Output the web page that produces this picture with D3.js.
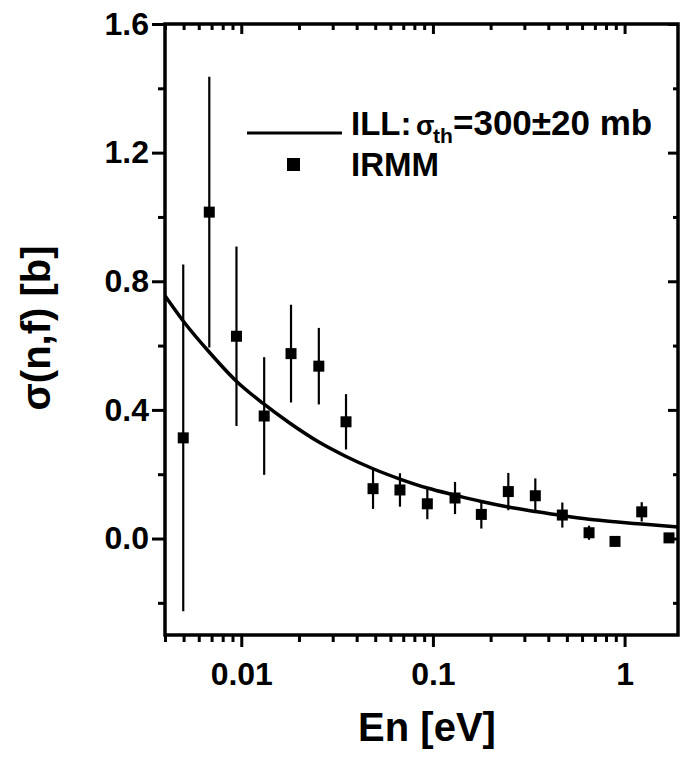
<!DOCTYPE html>
<html>
<head>
<meta charset="utf-8">
<script src="https://cdn.jsdelivr.net/npm/d3@7"></script>
<style>
  html, body { margin: 0; padding: 0; background: #fff; }
  svg { display: block; }
  text { font-family: "Liberation Sans", Arial, sans-serif; font-weight: bold; fill: #000; }
</style>
</head>
<body>
<svg id="chart" width="682" height="757"></svg>
<script>
// ---- Data ----
const energies = [0.00498, 0.00681, 0.00944, 0.01317, 0.01818, 0.02539, 0.0352, 0.0487, 0.0673, 0.0935,
                  0.1304, 0.1789, 0.2474, 0.3422, 0.4734, 0.6526, 0.8914, 1.2288, 1.705];
const sigmaIRMM = [0.313, 1.015, 0.629, 0.381, 0.575, 0.536, 0.363, 0.155, 0.151, 0.108,
                   0.126, 0.075, 0.146, 0.133, 0.073, 0.018, -0.009, 0.083, 0.002];
const errIRMM   = [0.539, 0.421, 0.279, 0.183, 0.152, 0.119, 0.086, 0.063, 0.052, 0.048,
                   0.050, 0.044, 0.058, 0.054, 0.039, 0.022, 0.006, 0.030, 0.006];

const curveE = [0.004, 0.005, 0.0068, 0.0094, 0.013, 0.0178, 0.0254, 0.035, 0.0487, 0.0673, 0.0935,
                0.13, 0.179, 0.247, 0.342, 0.473, 0.653, 0.891, 1.229, 1.705, 1.9];
const curveILL = [0.755, 0.675, 0.58, 0.49, 0.42, 0.36, 0.30, 0.256, 0.217, 0.185, 0.157,
                  0.135, 0.115, 0.098, 0.084, 0.071, 0.060, 0.052, 0.045, 0.038, 0.036];

const xMajorTicks = [0.01, 0.1, 1];
const xTickLabels = ["0.01", "0.1", "1"];
const yMajorTicks = [0.0, 0.4, 0.8, 1.2, 1.6];
const yTickLabels = ["0.0", "0.4", "0.8", "1.2", "1.6"];
const yMinorTicks = [-0.2, 0.2, 0.6, 1.0, 1.4];

const legendLabels = { ill: "ILL:", sigma: "σ", sub: "th", rest: "=300±20 mb", pts: "IRMM" };
const axisTitles = { x: "En [eV]", y: "σ(n,f) [b]" };

// ---- Layout ----
const L = 165, R = 678, T = 24, B = 635;
const svg = d3.select("#chart");

const x = d3.scaleLog().domain([0.004, 1.9]).range([L, R]);
const y = d3.scaleLinear().domain([-0.3, 1.6]).range([B, T]);

// minor log ticks
const xMinorTicks = [];
[0.001, 0.01, 0.1].forEach(d => { for (let k = 2; k <= 9; k++) { const v = +(d * k).toPrecision(3); if (v >= 0.004 && v <= 1.9 && xMajorTicks.indexOf(v) < 0) xMinorTicks.push(v); } });

const fmtX = d => xTickLabels[xMajorTicks.indexOf(d)];
const fmtY = d => yTickLabels[yMajorTicks.findIndex(v => Math.abs(v - d) < 1e-9)];

function styleAxis(g) {
  g.select(".domain").remove();
  g.selectAll(".tick line").attr("stroke", "#000").attr("stroke-width", 3);
}

// bottom axis (outward ticks)
svg.append("g").attr("transform", `translate(0,${B})`)
  .call(d3.axisBottom(x).tickValues(xMajorTicks).tickFormat(fmtX).tickSizeInner(12).tickPadding(8))
  .call(styleAxis)
  .call(g => g.selectAll("text").attr("font-size", 32).attr("font-family", "Liberation Sans, Arial, sans-serif").attr("font-weight", "bold").attr("dy", "0.95em"));
svg.append("g").attr("transform", `translate(0,${B})`)
  .call(d3.axisBottom(x).tickValues(xMinorTicks).tickFormat("").tickSizeInner(7))
  .call(styleAxis);

// top axis (inward ticks)
svg.append("g").attr("transform", `translate(0,${T})`)
  .call(d3.axisTop(x).tickValues(xMajorTicks).tickFormat("").tickSizeInner(-10))
  .call(styleAxis);
svg.append("g").attr("transform", `translate(0,${T})`)
  .call(d3.axisTop(x).tickValues(xMinorTicks).tickFormat("").tickSizeInner(-6))
  .call(styleAxis);

// left axis (outward ticks)
svg.append("g").attr("transform", `translate(${L},0)`)
  .call(d3.axisLeft(y).tickValues(yMajorTicks).tickFormat(fmtY).tickSizeInner(13).tickPadding(3))
  .call(styleAxis)
  .call(g => g.selectAll("text").attr("font-size", 32).attr("font-family", "Liberation Sans, Arial, sans-serif").attr("font-weight", "bold"));
svg.append("g").attr("transform", `translate(${L},0)`)
  .call(d3.axisLeft(y).tickValues(yMinorTicks).tickFormat("").tickSizeInner(7))
  .call(styleAxis);

// right axis (inward ticks)
svg.append("g").attr("transform", `translate(${R},0)`)
  .call(d3.axisRight(y).tickValues(yMajorTicks).tickFormat("").tickSizeInner(-10))
  .call(styleAxis);
svg.append("g").attr("transform", `translate(${R},0)`)
  .call(d3.axisRight(y).tickValues(yMinorTicks).tickFormat("").tickSizeInner(-5))
  .call(styleAxis);

// frame
svg.append("rect").attr("x", L).attr("y", T).attr("width", R - L).attr("height", B - T)
  .attr("fill", "none").attr("stroke", "#000").attr("stroke-width", 3.5);

// clip
svg.append("clipPath").attr("id", "plotclip").append("rect")
  .attr("x", L).attr("y", T).attr("width", R - L).attr("height", B - T);
const plot = svg.append("g").attr("clip-path", "url(#plotclip)");

// ILL curve
const curveData = curveE.map((e, i) => [e, curveILL[i]]);
plot.append("path").datum(curveData)
  .attr("d", d3.line().x(d => x(d[0])).y(d => y(d[1])).curve(d3.curveMonotoneX))
  .attr("fill", "none").attr("stroke", "#000").attr("stroke-width", 3.5);

// IRMM points with error bars
const pts = energies.map((e, i) => ({ e, s: sigmaIRMM[i], err: errIRMM[i] }));
plot.selectAll("line.err").data(pts).join("line").attr("class", "err")
  .attr("x1", d => x(d.e)).attr("x2", d => x(d.e))
  .attr("y1", d => y(d.s + d.err)).attr("y2", d => y(d.s - d.err))
  .attr("stroke", "#000").attr("stroke-width", 2.2);
const ms = 11;
plot.selectAll("rect.pt").data(pts).join("rect").attr("class", "pt")
  .attr("x", d => x(d.e) - ms / 2).attr("y", d => y(d.s) - ms / 2)
  .attr("width", ms).attr("height", ms).attr("fill", "#000");

// legend
svg.append("line").attr("x1", 247).attr("x2", 342).attr("y1", 133).attr("y2", 133)
  .attr("stroke", "#000").attr("stroke-width", 3);
svg.append("text").attr("x", 351).attr("y", 135).attr("font-size", 33).text(legendLabels.ill);
svg.append("text").attr("x", 416).attr("y", 135).attr("font-size", 27).text(legendLabels.sigma);
svg.append("text").attr("x", 433).attr("y", 143).attr("font-size", 21).text(legendLabels.sub);
svg.append("text").attr("x", 453).attr("y", 135).attr("font-size", 35).text(legendLabels.rest);
svg.append("rect").attr("x", 287).attr("y", 158).attr("width", 13).attr("height", 13).attr("fill", "#000");
svg.append("text").attr("x", 351).attr("y", 176).attr("font-size", 33).text(legendLabels.pts);

// axis titles
svg.append("text").attr("x", 427).attr("y", 741).attr("text-anchor", "middle")
  .attr("font-size", 40).text(axisTitles.x);
svg.append("text").attr("transform", "translate(50,328) rotate(-90)").attr("text-anchor", "middle")
  .attr("font-size", 40).text(axisTitles.y);
</script>
</body>
</html>
